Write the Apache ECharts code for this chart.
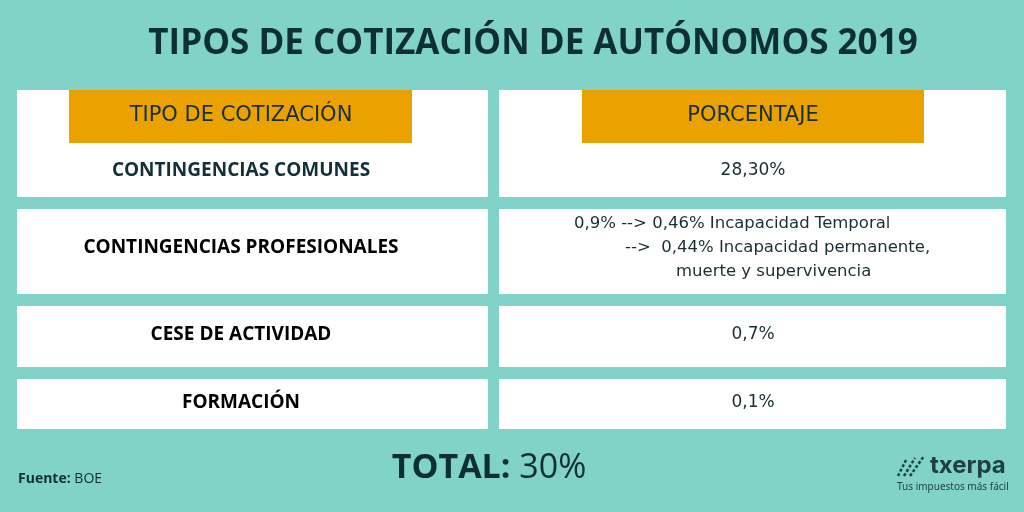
<!DOCTYPE html>
<html><head><meta charset="utf-8">
<script src="https://cdn.jsdelivr.net/npm/echarts@6/dist/echarts.min.js"></script>
<style>html,body{margin:0;padding:0;background:#80d3c6}#c{width:1024px;height:512px}</style>
</head><body><div id="c"></div>
<script>
const title = 'TIPOS DE COTIZACIÓN DE AUTÓNOMOS 2019';
const headers = ['TIPO DE COTIZACIÓN', 'PORCENTAJE'];
const categories = ['CONTINGENCIAS COMUNES', 'CONTINGENCIAS PROFESIONALES', 'CESE DE ACTIVIDAD', 'FORMACIÓN'];
const values = [
  ['28,30%'],
  ['0,9% --> 0,46% Incapacidad Temporal', '-->  0,44% Incapacidad permanente,', 'muerte y supervivencia'],
  ['0,7%'],
  ['0,1%']
];
const total = '30%';
const source = 'BOE';

// row boxes [top, bottom]
const rows = [[90, 197], [209, 294], [306, 367], [379, 429]];
const textY = [171, 248, 335, 403];
const lineX = [574, 625, 676];
const dark = '#0f2f36';
const chart = echarts.init(document.getElementById('c'));
const g = [];
rows.forEach((r) => {
  g.push({ type: 'rect', shape: { x: 17, y: r[0], width: 471, height: r[1] - r[0] }, style: { fill: '#fff' } });
  g.push({ type: 'rect', shape: { x: 499, y: r[0], width: 507, height: r[1] - r[0] }, style: { fill: '#fff' } });
});
g.push({ type: 'rect', shape: { x: 69, y: 90, width: 343, height: 53 }, style: { fill: '#e9a200' } });
g.push({ type: 'rect', shape: { x: 582, y: 90, width: 342, height: 53 }, style: { fill: '#e9a200' } });
g.push({ type: 'text', x: 241, y: 116, style: { text: headers[0], font: '21px "DejaVu Sans"', fill: '#1a2e33', align: 'center', verticalAlign: 'middle' } });
g.push({ type: 'text', x: 753, y: 116, style: { text: headers[1], font: '21px "DejaVu Sans"', fill: '#1a2e33', align: 'center', verticalAlign: 'middle' } });
categories.forEach((c, i) => {
  g.push({ type: 'text', x: 241, y: textY[i], style: { text: c, font: 'bold 19px "Open Sans"', fill: i === 0 ? '#12303a' : '#000', align: 'center', verticalAlign: 'middle' } });
  const lines = values[i];
  if (lines.length === 1) {
    g.push({ type: 'text', x: 753, y: textY[i], style: { text: lines[0], font: '17px "DejaVu Sans"', fill: '#1a2e33', align: 'center', verticalAlign: 'middle' } });
  } else {
    lines.forEach((l, k) => {
      g.push({ type: 'text', x: lineX[k], y: textY[i] + (k - 1) * 24, style: { text: l, font: '16.5px "DejaVu Sans"', fill: '#1a2e33', align: 'left', verticalAlign: 'middle' } });
    });
  }
});
g.push({ type: 'text', x: 533, y: 44, style: { text: title, font: 'bold 35px "Open Sans"', fill: dark, align: 'center', verticalAlign: 'middle' } });
g.push({ type: 'text', x: 489, y: 468, style: { rich: { a: { font: 'bold 34px "Open Sans"', fill: dark }, b: { font: '34px "Open Sans"', fill: dark } }, text: '{a|TOTAL: }{b|' + total + '}', align: 'center', verticalAlign: 'middle' } });
g.push({ type: 'text', x: 18, y: 479, style: { rich: { a: { font: 'bold 14px "Open Sans"', fill: dark }, b: { font: '14px "Open Sans"', fill: dark } }, text: '{a|Fuente: }{b|' + source + '}', verticalAlign: 'middle' } });
// logo
[[0, 0], [6, -6], [12, -12]].forEach((o, k) => {
  g.push({ type: 'line', shape: { x1: 898 + o[0], y1: 476, x2: 906 + o[0] + k * 3, y2: 460 + o[1] / 3 }, style: { stroke: '#1d3f45', lineWidth: 2.5, lineDash: [3, 2] } });
});
g.push({ type: 'text', x: 930, y: 466, style: { text: 'txerpa', font: 'bold 24px "Inter"', fill: '#1d3f45', align: 'left', verticalAlign: 'middle' } });
g.push({ type: 'text', x: 897, y: 487, style: { text: 'Tus impuestos más fácil', font: '10px "Noto Sans"', fill: '#1d3f45', align: 'left', verticalAlign: 'middle' } });
chart.setOption({ backgroundColor: '#80d3c6', graphic: g });
</script></body></html>
